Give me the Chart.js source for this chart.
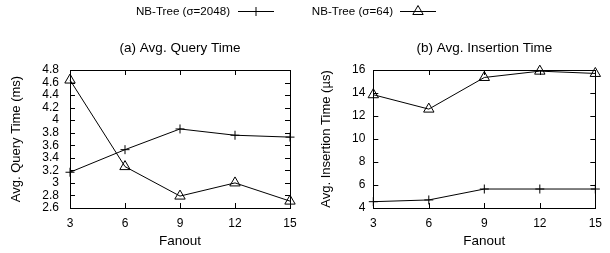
<!DOCTYPE html>
<html>
<head>
<meta charset="utf-8">
<script src="https://cdn.jsdelivr.net/npm/chart.js@4.4.0/dist/chart.umd.min.js"></script>
<style>
  html, body { margin: 0; padding: 0; background: #fff; }
  #wrap { position: relative; width: 610px; height: 253px; }
  #query { position: absolute; left: 0; top: 0; }
  #insert { position: absolute; left: 305px; top: 0; }
</style>
</head>
<body>
<div id="wrap">
  <canvas id="query" width="610" height="253"></canvas>
  <canvas id="insert" width="305" height="253"></canvas>
</div>
<script>
const fanout = ['3', '6', '9', '12', '15']
const seriesLabels = ['NB-Tree (σ=2048)', 'NB-Tree (σ=64)']
const queryTime2048 = [3.17, 3.53, 3.86, 3.76, 3.73]
const queryTime64 = [4.64, 3.26, 2.79, 3.0, 2.71]
const insertTime2048 = [4.55, 4.7, 5.65, 5.65, 5.65]
const insertTime64 = [13.85, 12.6, 15.35, 15.9, 15.7]
const queryTicks = [2.6, 2.8, 3, 3.2, 3.4, 3.6, 3.8, 4, 4.2, 4.4, 4.6, 4.8]
const insertTicks = [4, 6, 8, 10, 12, 14, 16]

const FONT = "'Liberation Sans', Arial, sans-serif"
Chart.defaults.font.family = FONT
Chart.defaults.font.size = 12
Chart.defaults.color = '#000'

const markers = [
  { style: 'cross', radius: 4.5 },
  { style: 'triangle', radius: 6 },
]

function drawMarker(ctx, style, r, x, y) {
  ctx.beginPath()
  if (style === 'cross') {
    ctx.moveTo(x - r, y)
    ctx.lineTo(x + r, y)
    ctx.moveTo(x, y - r)
    ctx.lineTo(x, y + r)
  } else {
    ctx.moveTo(x, y - r)
    ctx.lineTo(x + 0.866 * r, y + 0.5 * r)
    ctx.lineTo(x - 0.866 * r, y + 0.5 * r)
    ctx.closePath()
  }
  ctx.stroke()
}

// gnuplot style box with inward mirrored ticks
const gnuplotFrame = {
  id: 'gnuplotFrame',
  beforeDatasetsDraw(chart) {
    const { ctx, chartArea: a, scales } = chart
    const len = 5
    ctx.save()
    ctx.strokeStyle = '#000'
    ctx.lineWidth = 1
    ctx.strokeRect(Math.round(a.left) + 0.5, Math.round(a.top) + 0.5,
      Math.round(a.right - a.left), Math.round(a.bottom - a.top))
    ctx.beginPath()
    scales.x.ticks.forEach((t, i) => {
      const px = Math.round(scales.x.getPixelForTick(i)) + 0.5
      ctx.moveTo(px, a.bottom)
      ctx.lineTo(px, a.bottom - len)
      ctx.moveTo(px, a.top)
      ctx.lineTo(px, a.top + len)
    })
    scales.y.ticks.forEach((t, i) => {
      const py = Math.round(scales.y.getPixelForTick(i)) + 0.5
      ctx.moveTo(a.left, py)
      ctx.lineTo(a.left + len, py)
      ctx.moveTo(a.right, py)
      ctx.lineTo(a.right - len, py)
    })
    ctx.stroke()
    ctx.restore()
  },
}

// key at the top: text, then line sample with marker
const topKey = {
  id: 'topKey',
  afterDraw(chart) {
    const { ctx } = chart
    const items = [
      { textRight: 230, x0: 238, x1: 274 },
      { textRight: 393, x0: 400, x1: 436 },
    ]
    const y = 11.5
    ctx.save()
    ctx.font = '11.6px ' + FONT
    ctx.fillStyle = '#000'
    ctx.strokeStyle = '#000'
    ctx.lineWidth = 1
    ctx.textAlign = 'right'
    ctx.textBaseline = 'middle'
    items.forEach((it, i) => {
      ctx.fillText(seriesLabels[i], it.textRight, y)
      ctx.beginPath()
      ctx.moveTo(it.x0, y)
      ctx.lineTo(it.x1, y)
      ctx.stroke()
      drawMarker(ctx, markers[i].style, markers[i].radius, (it.x0 + it.x1) / 2, y)
    })
    ctx.restore()
  },
}

function makeDataset(label, data, i) {
  return {
    label: label,
    data: data,
    borderColor: '#000',
    borderWidth: 1,
    pointStyle: markers[i].style,
    pointRadius: markers[i].radius,
    pointBorderColor: '#000',
    pointBackgroundColor: 'rgba(0,0,0,0)',
    pointBorderWidth: 1,
    tension: 0,
    clip: false,
  }
}

function makeConfig(opts) {
  return {
    type: 'line',
    data: {
      labels: fanout,
      datasets: [
        makeDataset(seriesLabels[0], opts.series[0], 0),
        makeDataset(seriesLabels[1], opts.series[1], 1),
      ],
    },
    options: {
      responsive: false,
      animation: false,
      events: [],
      layout: { autoPadding: false, padding: opts.padding },
      plugins: {
        legend: { display: false },
        tooltip: { enabled: false },
        title: {
          display: true,
          text: opts.title,
          fullSize: false,
          font: { size: 13.5, weight: 'normal' },
          padding: { top: 39.9, bottom: 13.9 },
        },
      },
      scales: {
        x: {
          offset: false,
          grid: { display: false, drawTicks: false },
          border: { display: false },
          ticks: { padding: 8, maxRotation: 0, autoSkip: false },
          title: {
            display: true,
            text: 'Fanout',
            font: { size: 13.5 },
            padding: { top: 0, bottom: 3.4 },
          },
          afterFit: s => { s.height = 45 },
        },
        y: {
          min: opts.ticks[0],
          max: opts.ticks[opts.ticks.length - 1],
          grid: { display: false, drawTicks: false },
          border: { display: false },
          ticks: {
            padding: opts.tickPad,
            autoSkip: false,
            callback: v => String(Number(v.toFixed(1))),
          },
          afterBuildTicks: s => { s.ticks = opts.ticks.map(v => ({ value: v })) },
          title: {
            display: true,
            text: opts.yTitle,
            font: { size: 13 },
            padding: { top: opts.yTitlePad, bottom: 0 },
          },
          afterFit: s => { s.width = opts.yWidth },
        },
      },
    },
    plugins: opts.plugins,
  }
}

const queryChart = new Chart(document.getElementById('query').getContext('2d'), makeConfig({
  series: [queryTime2048, queryTime64],
  ticks: queryTicks,
  title: '(a) Avg. Query Time',
  yTitle: 'Avg. Query Time (ms)',
  yWidth: 70,
  tickPad: 11,
  yTitlePad: 8.4,
  padding: { left: 0, right: 320, top: 0, bottom: 0 },
  plugins: [gnuplotFrame, topKey],
}))

const insertChart = new Chart(document.getElementById('insert').getContext('2d'), makeConfig({
  series: [insertTime2048, insertTime64],
  ticks: insertTicks,
  title: '(b) Avg. Insertion Time',
  yTitle: 'Avg. Insertion Time (µs)',
  yWidth: 68.3,
  tickPad: 8,
  yTitlePad: 13.9,
  padding: { left: 0, right: 7.3, top: 0, bottom: 0 },
  plugins: [gnuplotFrame],
}))
</script>
</body>
</html>
